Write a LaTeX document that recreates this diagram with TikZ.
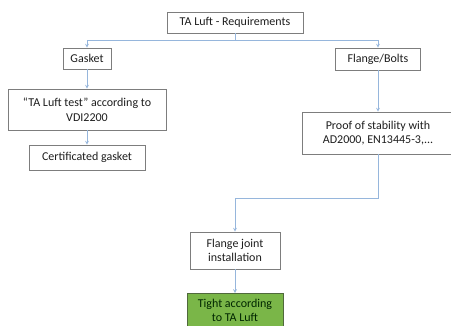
\documentclass[tikz,border=0pt]{standalone}
\usepackage{fontspec}
\setmainfont{Carlito}
\usepackage{tikz}
\usetikzlibrary{shapes, arrows, calc, positioning}

\definecolor{linkblue}{RGB}{150,182,220}
\definecolor{boxgray}{RGB}{125,125,125}
\definecolor{textgray}{RGB}{30,30,30}
\definecolor{okgreen}{RGB}{122,182,72}
\definecolor{okborder}{RGB}{80,105,60}

\begin{document}
\begin{tikzpicture}[>=stealth, x=1pt, y=-1pt]
    \tikzstyle{format} = [draw=boxgray, line width=0.8pt, fill=white, align=center,
	inner sep=2pt, text=textgray, font=\fontsize{12}{14.5}\selectfont]
    \tikzstyle{link} = [->, linkblue, line width=0.7pt]

	\clip (0,0) rectangle (451,325);

	\begin{scope}
		\path
			node[format, minimum width=136pt, minimum height=21pt] (req) at (235,22.5) {TA Luft - Requirements}
			node[format, minimum width=48pt, minimum height=21pt] (gasket) at (87,58.5) {Gasket}
			node[format, minimum width=85pt, minimum height=22pt] (flange) at (378,59) {Flange/Bolts}
			node[format, minimum width=158pt, minimum height=41pt] (test) at (87,109.5) {``TA Luft test'' according to\\VDI2200}
			node[format, minimum width=116pt, minimum height=25pt] (cert) at (87,157.5) {Certificated gasket}
			node[format, minimum width=151pt, minimum height=42pt] (proof) at (378,133) {Proof of stability with\\AD2000, EN13445-3,...}
			node[format, minimum width=90pt, minimum height=37pt] (joint) at (235,250.5) {Flange joint\\installation}
			node[format, draw=okborder, fill=okgreen, text=black!85!green, minimum width=96pt, minimum height=34pt, anchor=north] (tight) at (235,293) {Tight according\\to TA Luft}
		;
		\coordinate (split) at (235,40);
		\coordinate (merge) at (378,198);
	\end{scope}

	\draw[link] (req.south) -- (split) -| (gasket.north);
	\draw[link] (split) -| (flange.north);
	\draw[link] (gasket) -- (test);
	\draw[link] (test) -- (cert);
	\draw[link] (flange) -- (proof);
	\draw[link] (proof.south) -- (merge) -| (joint.north);
	\draw[link] (joint) -- (tight);
\end{tikzpicture}
\end{document}
